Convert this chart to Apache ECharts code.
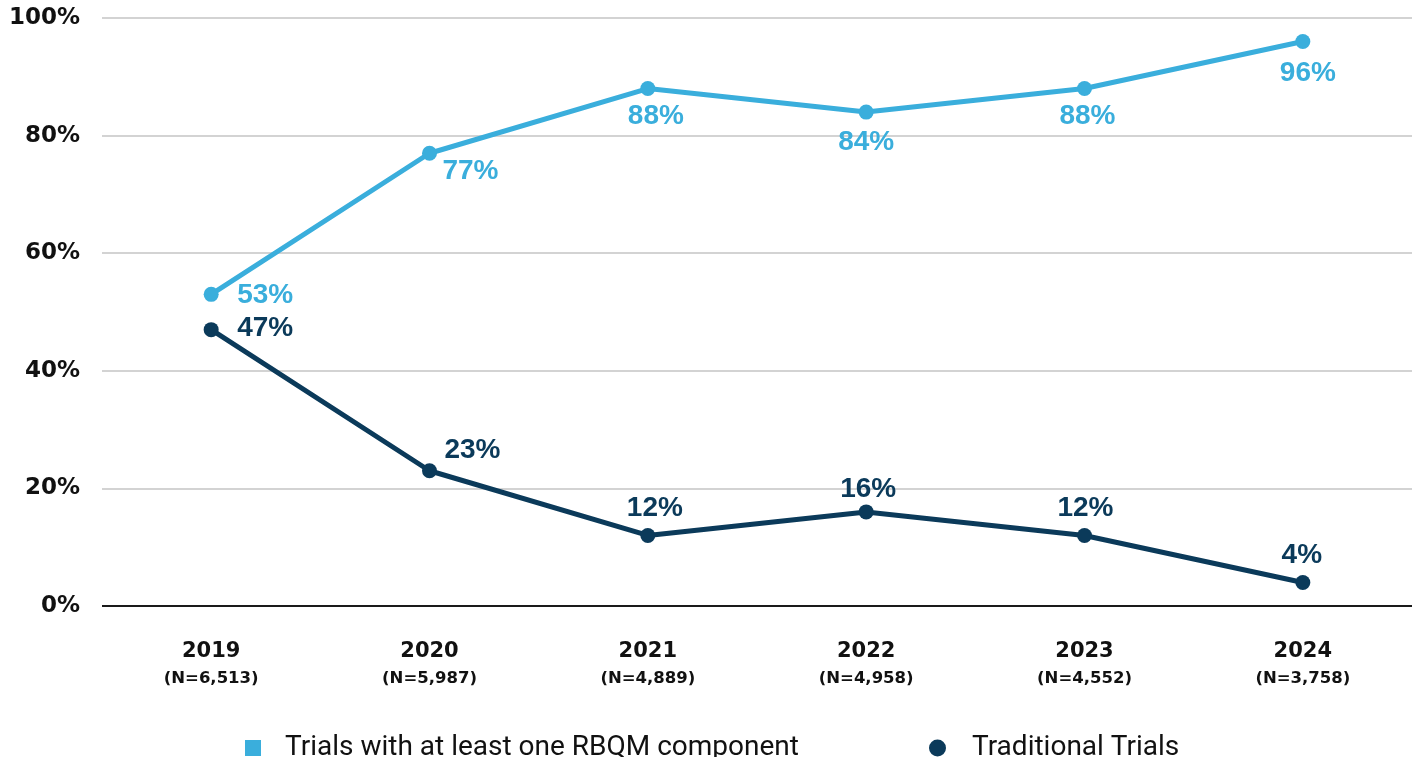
<!DOCTYPE html>
<html>
<head>
<meta charset="utf-8">
<script src="https://cdn.jsdelivr.net/npm/echarts@6/dist/echarts.min.js"></script>
<style>
  html, body { margin: 0; padding: 0; background: #ffffff; }
  #chart { width: 1422px; height: 757px; }
</style>
</head>
<body>
<div id="chart"></div>
<script>
// Yearly share of trials by monitoring approach
const years = ['2019', '2020', '2021', '2022', '2023', '2024'];
const sampleSizes = ['6,513', '5,987', '4,889', '4,958', '4,552', '3,758'];
const rbqmShare = [53, 77, 88, 84, 88, 96];
const traditionalShare = [47, 23, 12, 16, 12, 4];
const yTicks = [0, 20, 40, 60, 80, 100];

const seriesNames = ['Trials with at least one RBQM component', 'Traditional Trials'];
const blue = '#3AAEDC';
const navy = '#0B3A5A';

// label offsets (from the point centre) per year, for each line
const rbqmLabelOffset = [[54, 1], [41, 18], [8, 28], [0, 30], [3, 28], [5, 32]];
const tradLabelOffset = [[54, -1], [43, -20], [7, -27], [2, -23], [1, -27], [-1, -27]];

function withLabels(values, offsets) {
  return values.map((v, i) => ({
    value: v,
    label: { offset: offsets[i] }
  }));
}

const labelFont = {
  show: true,
  position: 'inside',
  formatter: '{c}%',
  fontFamily: 'Liberation Sans, Arial, sans-serif',
  fontWeight: 'bold',
  fontSize: 28
};

const legendText = { fontFamily: 'Roboto, sans-serif', fontSize: 28, color: '#111111' };

const chart = echarts.init(document.getElementById('chart'));
chart.setOption({
  animation: false,
  backgroundColor: '#ffffff',
  grid: { left: 102, right: 10, top: 18, bottom: 151, containLabel: false },
  legend: [
    {
      data: [{ name: seriesNames[0], icon: 'rect' }],
      left: 245, top: 734, padding: 0,
      itemWidth: 16, itemHeight: 16,
      textStyle: Object.assign({ padding: [0, 0, 0, 19] }, legendText)
    },
    {
      data: [{ name: seriesNames[1], icon: 'circle' }],
      left: 929, top: 734, padding: 0,
      itemWidth: 17, itemHeight: 17,
      textStyle: Object.assign({ padding: [0, 0, 0, 21] }, legendText)
    }
  ],
  xAxis: {
    type: 'category',
    data: years,
    boundaryGap: true,
    axisLine: { show: false },
    axisTick: { show: false },
    axisLabel: {
      margin: 32,
      formatter: (val, idx) => '{y|' + val + '}\n{n|(N=' + sampleSizes[idx] + ')}',
      rich: {
        y: { fontFamily: 'DejaVu Sans, sans-serif', fontWeight: 'bold', fontSize: 21, color: '#111111', lineHeight: 28 },
        n: { fontFamily: 'DejaVu Sans, sans-serif', fontWeight: 'bold', fontSize: 16.5, color: '#111111', lineHeight: 26 }
      }
    }
  },
  yAxis: {
    type: 'value',
    min: yTicks[0],
    max: yTicks[yTicks.length - 1],
    interval: yTicks[1] - yTicks[0],
    axisLine: { show: false },
    axisTick: { show: false },
    axisLabel: {
      margin: 22,
      formatter: '{value}%',
      fontFamily: 'DejaVu Sans, sans-serif',
      fontWeight: 'bold',
      fontSize: 23,
      color: '#111111'
    },
    splitLine: {
      lineStyle: {
        width: 2,
        color: ['#1a1a1a', '#d3d3d3', '#d3d3d3', '#d3d3d3', '#d3d3d3', '#d3d3d3']
      }
    }
  },
  series: [
    {
      name: seriesNames[0],
      type: 'line',
      data: withLabels(rbqmShare, rbqmLabelOffset),
      symbol: 'circle',
      symbolSize: 15,
      itemStyle: { color: blue },
      lineStyle: { color: blue, width: 5 },
      label: Object.assign({ color: blue }, labelFont),
      z: 3
    },
    {
      name: seriesNames[1],
      type: 'line',
      data: withLabels(traditionalShare, tradLabelOffset),
      symbol: 'circle',
      symbolSize: 15,
      itemStyle: { color: navy },
      lineStyle: { color: navy, width: 5 },
      label: Object.assign({ color: navy }, labelFont),
      z: 4
    }
  ]
});
</script>
</body>
</html>
